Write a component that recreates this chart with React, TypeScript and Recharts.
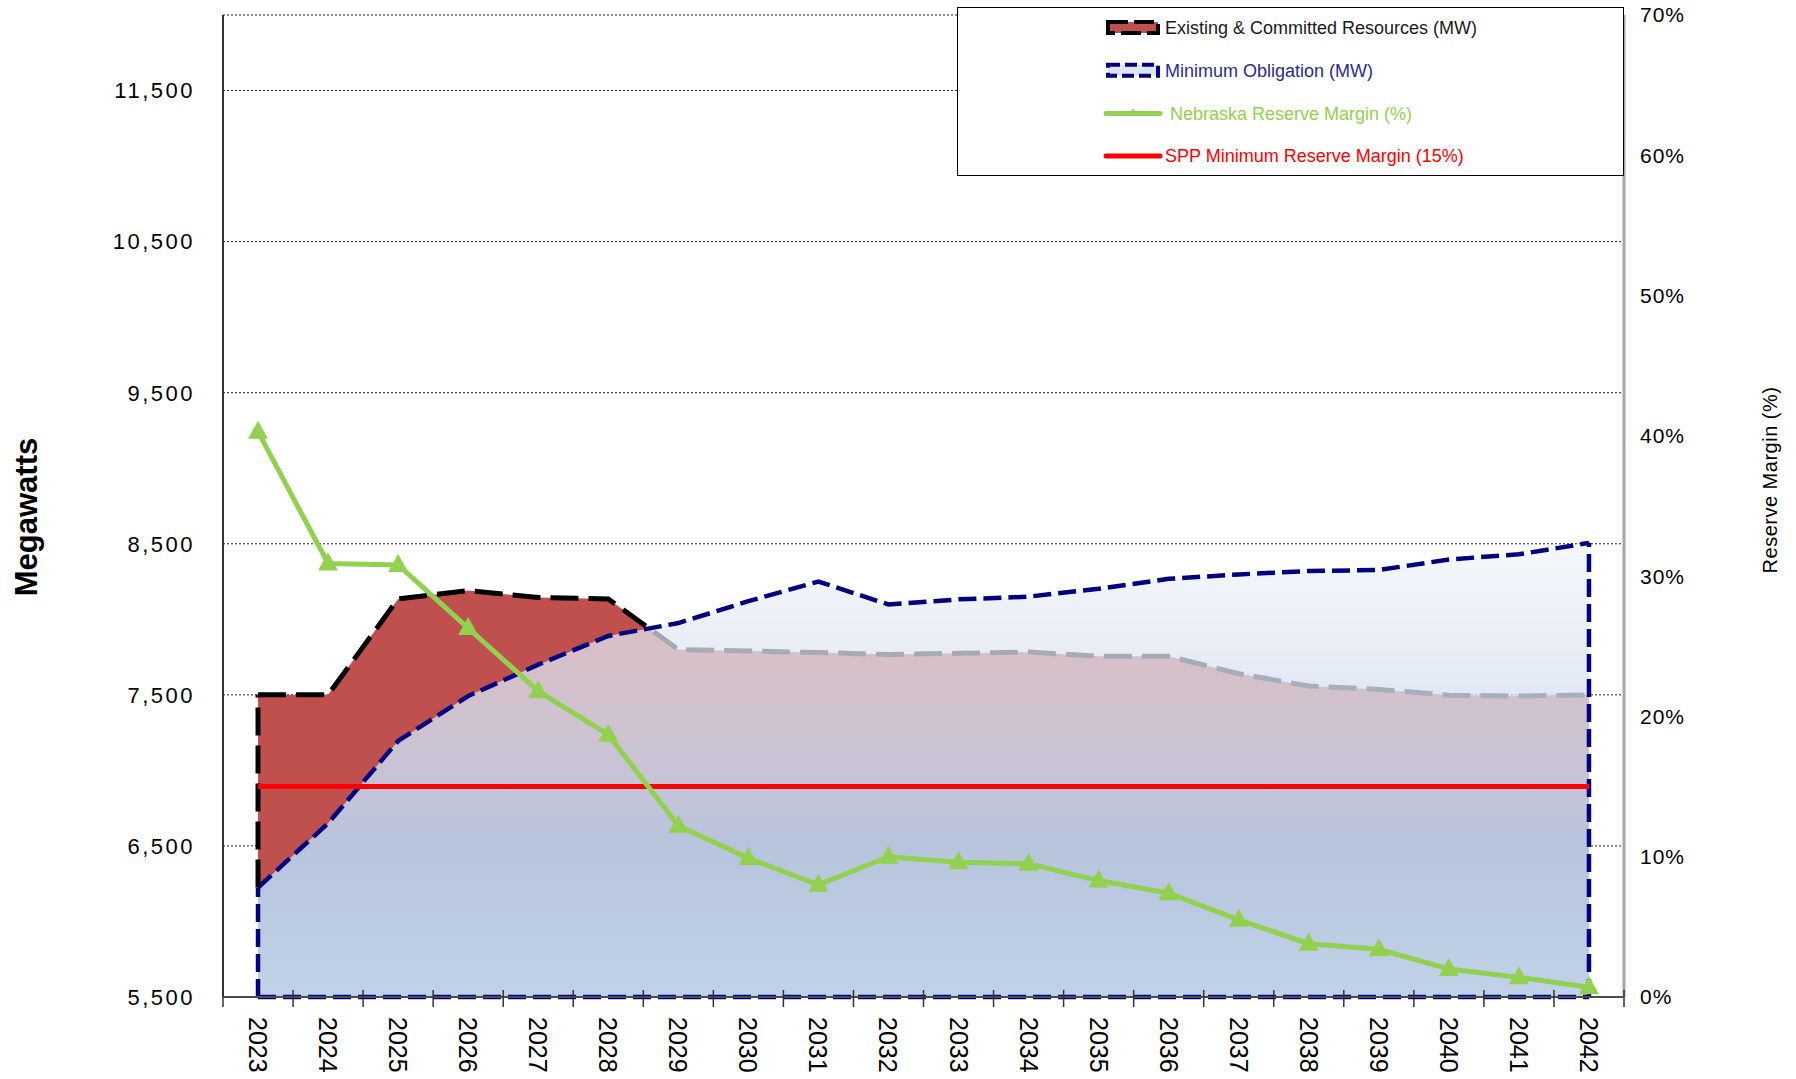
import React from "react";
import {
  ComposedChart,
  Area,
  Line,
  XAxis,
  YAxis,
  CartesianGrid,
  ReferenceLine,
  Legend,
  Label,
} from "recharts";

// Load & capability outlook, 2023-2042
const years = [
  "2023", "2024", "2025", "2026", "2027", "2028", "2029", "2030", "2031", "2032",
  "2033", "2034", "2035", "2036", "2037", "2038", "2039", "2040", "2041", "2042",
];
const existingMW = [
  7500, 7500, 8135, 8190, 8145, 8135, 7800, 7790, 7780, 7767,
  7775, 7783, 7755, 7755, 7640, 7558, 7536, 7498, 7492, 7500,
];
const obligationMW = [
  6225, 6650, 7195, 7492, 7700, 7890, 7975, 8120, 8250, 8098,
  8132, 8150, 8202, 8268, 8297, 8320, 8326, 8396, 8430, 8506,
];
const nebraskaPct = [
  40.3, 30.9, 30.8, 26.3, 21.8, 18.7, 12.2, 9.9, 8.0, 10.0,
  9.6, 9.5, 8.3, 7.4, 5.5, 3.8, 3.4, 2.0, 1.4, 0.7,
];
const sppPct = [
  15, 15, 15, 15, 15, 15, 15, 15, 15, 15,
  15, 15, 15, 15, 15, 15, 15, 15, 15, 15,
];
const mwTicks = [5500, 6500, 7500, 8500, 9500, 10500, 11500];
const pctTicks = [0, 10, 20, 30, 40, 50, 60, 70];

const MW_MIN = 5500;
const MW_MAX = 12000;

const data = years.map((year, i) => ({
  year,
  existing: existingMW[i],
  obligation: obligationMW[i],
  nebraska: nebraskaPct[i],
  spp: sppPct[i],
}));

// layout
const W = 1796;
const H = 1079;
const LEFT_W = 223;
const RIGHT_W = 172;
const TOP = 15;
const X_H = 82;
const BAND_HALF = (W - LEFT_W - RIGHT_W) / years.length / 2;

const FONT = '"Liberation Sans", Arial, sans-serif';
const RED = "#C0504D";
const NAVY = "#000080";
const GREEN = "#92D050";

const YearTick = (props: any) => {
  const { x, y, payload, index } = props;
  const isLast = index === years.length - 1;
  return (
    <g>
      <line x1={x - BAND_HALF} x2={x - BAND_HALF} y1={y - 7} y2={y + 10} stroke="#333" strokeWidth={1.5} />
      {isLast && (
        <line x1={x + BAND_HALF} x2={x + BAND_HALF} y1={y - 7} y2={y + 10} stroke="#333" strokeWidth={1.5} />
      )}
      <text
        transform={`translate(${x},${y + 20}) rotate(90)`}
        dy="0.36em"
        textAnchor="start"
        fontSize={25}
        fontFamily={FONT}
        fill="#000"
      >
        {payload.value}
      </text>
    </g>
  );
};

const TriangleDot = (props: any) => {
  const { cx, cy } = props;
  if (cx == null || cy == null) return null;
  return <path d={`M${cx},${cy - 11} L${cx + 10},${cy + 7} L${cx - 10},${cy + 7} Z`} fill={GREEN} />;
};

const legendStyle: Record<string, { text: string; icon: (x: number, y: number) => React.ReactNode }> = {
  existing: {
    text: "#1a1a1a",
    icon: (x, y) => (
      <rect x={x + 2} y={y - 6} width={50} height={11} fill={RED} stroke="#000" strokeWidth={4} strokeDasharray="20 6" />
    ),
  },
  obligation: {
    text: "#2B2B8F",
    icon: (x, y) => (
      <rect x={x + 2} y={y - 6} width={50} height={11} fill="#DCE6F2" stroke={NAVY} strokeWidth={4} strokeDasharray="12 5" />
    ),
  },
  nebraska: {
    text: GREEN,
    icon: (x, y) => (
      <g>
        <line x1={x} x2={x + 54} y1={y} y2={y} stroke={GREEN} strokeWidth={5} strokeLinecap="round" />
        <path d={`M${x + 27},${y - 5} L${x + 31},${y + 2} L${x + 23},${y + 2} Z`} fill={GREEN} />
      </g>
    ),
  },
  spp: {
    text: "#FF0000",
    icon: (x, y) => <line x1={x} x2={x + 54} y1={y} y2={y} stroke="#FF0000" strokeWidth={5} strokeLinecap="round" />,
  },
};
const legendOrder = ["existing", "obligation", "nebraska", "spp"];

const LegendBox = (props: any) => {
  const payload = (props.payload || []) as any[];
  const items = legendOrder
    .map((key) => payload.find((p) => p.dataKey === key))
    .filter(Boolean);
  return (
    <svg width={667} height={169} style={{ display: "block" }}>
      <rect x={0.5} y={0.5} width={666} height={168} fill="#fff" stroke="#000" strokeWidth={1} />
      {items.map((item, i) => {
        const rowY = 21 + i * 42.7;
        const s = legendStyle[item.dataKey];
        return (
          <g key={item.dataKey}>
            {s.icon(149, rowY)}
            <text
              x={i === 2 ? 213 : 208}
              y={rowY}
              dy="0.35em"
              fontSize={18}
              fontFamily={FONT}
              fill={s.text}
            >
              {item.value}
            </text>
          </g>
        );
      })}
    </svg>
  );
};

const navyEdge = { stroke: NAVY, strokeWidth: 4.5, strokeDasharray: "18 7" };

export default function App() {
  return (
    <div style={{ position: "absolute", left: 0, top: 0, width: W, height: H, background: "#fff" }}>
      <ComposedChart width={W} height={H} data={data} margin={{ top: TOP, right: 0, bottom: 0, left: 0 }}>
        <defs>
          <linearGradient id="oblFill" x1="0" y1="0" x2="0" y2="1">
            <stop offset="0" stopColor="#EDF2F8" stopOpacity={0.6} />
            <stop offset="0.235" stopColor="#E0E7F3" stopOpacity={0.74} />
            <stop offset="0.535" stopColor="#C5D8EE" stopOpacity={0.85} />
            <stop offset="0.667" stopColor="#B6D1EC" stopOpacity={0.9} />
            <stop offset="1" stopColor="#C0D6ED" stopOpacity={0.97} />
          </linearGradient>
        </defs>
        <CartesianGrid
          xAxisId="x"
          yAxisId="left"
          vertical={false}
          stroke="#222"
          strokeDasharray="2 2"
          strokeWidth={1}
        />
        <XAxis
          xAxisId="x"
          dataKey="year"
          interval={0}
          padding={{ left: BAND_HALF, right: BAND_HALF }}
          height={X_H}
          tickLine={false}
          tickSize={0}
          tickMargin={0}
          axisLine={{ stroke: "#4d4d4d", strokeWidth: 2 }}
          tick={<YearTick />}
        />
        <XAxis
          xAxisId="top"
          orientation="top"
          dataKey="year"
          height={0}
          padding={{ left: BAND_HALF, right: BAND_HALF }}
          tick={false}
          tickLine={false}
          axisLine={{ stroke: "#7f7f7f", strokeWidth: 2 }}
        />
        <YAxis
          yAxisId="left"
          width={LEFT_W}
          domain={[MW_MIN, MW_MAX]}
          ticks={mwTicks}
          interval={0}
          tickFormatter={(v: number) => v.toLocaleString("en-US")}
          tickLine={false}
          tickSize={6}
          tickMargin={22}
          axisLine={{ stroke: "#333", strokeWidth: 2 }}
          tick={{ fontSize: 22, fill: "#000", fontFamily: FONT, letterSpacing: 2.5 }}
        >
          <Label
            content={(p: any) => {
              const vb = p.viewBox || {};
              const y = vb.y + vb.height / 2 + 11;
              return (
                <text
                  transform={`translate(${vb.x + 37},${y}) rotate(-90)`}
                  textAnchor="middle"
                  fontSize={31}
                  fontWeight="bold"
                  fontFamily={FONT}
                  fill="#000"
                >
                  Megawatts
                </text>
              );
            }}
          />
        </YAxis>
        <YAxis
          yAxisId="right"
          orientation="right"
          width={RIGHT_W}
          domain={[0, 70]}
          ticks={pctTicks}
          interval={0}
          tickFormatter={(v: number) => `${v}%`}
          tickLine={false}
          tickSize={6}
          tickMargin={10}
          axisLine={{ stroke: "#a6a6a6", strokeWidth: 3 }}
          tick={{ fontSize: 21, fill: "#000", fontFamily: FONT, letterSpacing: 1 }}
        >
          <Label
            content={(p: any) => {
              const vb = p.viewBox || {};
              const y = vb.y + vb.height / 2 - 26;
              return (
                <text
                  transform={`translate(${vb.x + 153},${y}) rotate(-90)`}
                  textAnchor="middle"
                  fontSize={20}
                  letterSpacing={0.5}
                  fontFamily={FONT}
                  fill="#000"
                >
                  Reserve Margin (%)
                </text>
              );
            }}
          />
        </YAxis>

        <Area
          xAxisId="x"
          yAxisId="left"
          type="linear"
          dataKey="existing"
          name="Existing & Committed Resources (MW)"
          fill={RED}
          fillOpacity={1}
          stroke="#000"
          strokeWidth={5}
          strokeDasharray="28 10"
          dot={false}
          activeDot={false}
          isAnimationActive={false}
        />
        <Area
          xAxisId="x"
          yAxisId="left"
          type="linear"
          dataKey="obligation"
          name="Minimum Obligation (MW)"
          fill="url(#oblFill)"
          fillOpacity={1}
          stroke={NAVY}
          strokeWidth={4.5}
          strokeDasharray="18 7"
          dot={false}
          activeDot={false}
          isAnimationActive={false}
        />

        {/* closed outlines of the two areas */}
        <ReferenceLine
          xAxisId="x"
          yAxisId="left"
          ifOverflow="visible"
          segment={[
            { x: years[0], y: obligationMW[0] },
            { x: years[0], y: existingMW[0] },
          ]}
          stroke="#000"
          strokeWidth={5}
          strokeDasharray="28 10"
        />
        <ReferenceLine
          xAxisId="x"
          yAxisId="left"
          ifOverflow="visible"
          segment={[
            { x: years[0], y: MW_MIN },
            { x: years[0], y: obligationMW[0] },
          ]}
          {...navyEdge}
        />
        <ReferenceLine
          xAxisId="x"
          yAxisId="left"
          ifOverflow="visible"
          segment={[
            { x: years[years.length - 1], y: MW_MIN },
            { x: years[years.length - 1], y: obligationMW[obligationMW.length - 1] },
          ]}
          {...navyEdge}
        />
        <ReferenceLine
          xAxisId="x"
          yAxisId="left"
          ifOverflow="visible"
          segment={[
            { x: years[0], y: MW_MIN },
            { x: years[years.length - 1], y: MW_MIN },
          ]}
          {...navyEdge}
        />

        <Line
          xAxisId="x"
          yAxisId="right"
          type="linear"
          dataKey="spp"
          name="SPP Minimum Reserve Margin (15%)"
          stroke="#FF0000"
          strokeWidth={5}
          dot={false}
          activeDot={false}
          isAnimationActive={false}
        />
        <Line
          xAxisId="x"
          yAxisId="right"
          type="linear"
          dataKey="nebraska"
          name="Nebraska Reserve Margin (%)"
          stroke={GREEN}
          strokeWidth={5}
          dot={<TriangleDot />}
          activeDot={false}
          isAnimationActive={false}
        />

        <Legend
          layout="vertical"
          align="center"
          verticalAlign="middle"
          wrapperStyle={{ left: 957, top: 7, width: 667, height: 169 }}
          content={<LegendBox />}
        />
      </ComposedChart>
    </div>
  );
}
